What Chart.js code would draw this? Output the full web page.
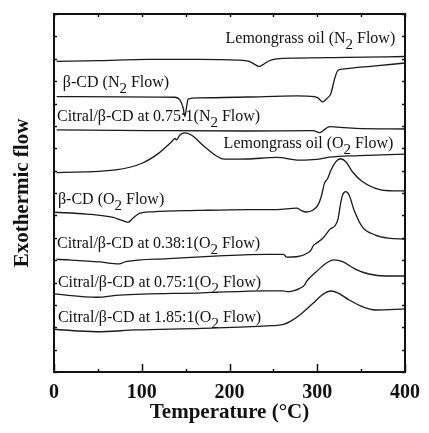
<!DOCTYPE html>
<html>
<head>
<meta charset="utf-8">
<script src="https://cdn.jsdelivr.net/npm/chart.js@4.4.0/dist/chart.umd.min.js"></script>
<style>
  html, body { margin:0; padding:0; background:#fff; }
  #wrap { width:429px; height:433px; position:relative; }
</style>
</head>
<body>
<div id="wrap"><canvas id="dsc"></canvas></div>
<script>
// DSC traces, temperature in °C, heat flow in arbitrary stacked units (0..16)
var lemonN2T = [3, 51.7, 107.9, 164, 209, 222.5, 229.2, 233.7, 238.2, 244.9, 253.9, 276.4, 332.6, 400];
var lemonN2Y = [13.88, 13.92, 13.97, 13.97, 13.94, 13.88, 13.74, 13.65, 13.74, 13.90, 13.99, 14.03, 14.06, 14.10];

var cdN2T = [3, 74.2, 137.9, 143.5, 147.2, 149.1, 150.9, 152.8, 164, 220.2, 276.4, 296.6, 300.8, 304.5, 306.4, 310.1, 315.7, 319.4, 323.3, 328.9, 366.3, 400];
var cdN2Y = [12.31, 12.30, 12.28, 12.16, 11.80, 11.42, 11.80, 12.20, 12.25, 12.29, 12.34, 12.31, 12.25, 12.11, 12.07, 12.19, 12.46, 13.05, 13.47, 13.54, 13.68, 13.81];

var mix075N2T = [3, 107.9, 220.2, 295.2, 302.6, 310.1, 314.6, 323.3, 343.8, 400];
var mix075N2Y = [10.82, 10.79, 10.77, 10.79, 10.70, 10.89, 10.97, 10.94, 10.89, 10.86];

var lemonO2T = [3, 70.4, 100.3, 119.1, 134, 137.9, 139.3, 143.5, 149.1, 156.5, 171.6, 186.5, 194, 220.2, 253.9, 280.1, 298.9, 313.8, 347.5, 400];
var lemonO2Y = [8.91, 9.03, 9.33, 9.77, 10.29, 10.44, 10.37, 10.59, 10.69, 10.59, 10.07, 9.62, 9.51, 9.52, 9.59, 9.47, 9.50, 9.60, 9.67, 9.74];

var cdO2T = [0, 37.4, 67.4, 76.4, 84.3, 89.9, 97.4, 112.4, 164, 220.2, 253.9, 276.4, 282, 287.6, 295.2, 300.8, 304.5, 308.2, 312, 315.7, 321.3, 326.2, 332.6, 340.1, 351.3, 366.3, 381.2, 400];
var cdO2Y = [7.14, 7.06, 6.91, 6.79, 6.69, 6.87, 7.09, 7.16, 7.22, 7.26, 7.26, 7.32, 7.21, 7.15, 7.24, 7.46, 7.83, 8.43, 8.66, 9.03, 9.40, 9.53, 9.40, 8.95, 8.51, 8.21, 8.10, 8.09];

var mix038O2T = [3, 51.7, 74.2, 81.7, 130.3, 182.8, 242.7, 261.5, 265.2, 276.4, 289.6, 293.3, 295.2, 298.9, 306.4, 313.8, 323.3, 327, 328.9, 332.6, 336.3, 341.9, 351.3, 366.3, 381.2, 400];
var mix038O2Y = [5.04, 4.92, 4.83, 4.93, 5.07, 5.18, 5.26, 5.26, 5.13, 5.15, 5.33, 5.47, 5.63, 5.75, 5.98, 6.35, 6.79, 7.61, 7.91, 8.06, 7.91, 7.24, 6.49, 6.12, 5.98, 5.94];

var mix075O2T = [0, 48.7, 74.9, 168.5, 242.7, 261.5, 265.2, 272.7, 280.1, 285.7, 287.6, 298.9, 310.1, 319.4, 328.9, 343.8, 358.8, 377.5, 400];
var mix075O2Y = [3.49, 3.34, 3.44, 3.54, 3.63, 3.63, 3.59, 3.63, 3.74, 3.89, 4.04, 4.48, 4.86, 5.01, 4.93, 4.59, 4.38, 4.29, 4.29];

var mix185O2T = [0, 48.7, 93.6, 168.5, 242.7, 261.5, 268.9, 280.1, 295.2, 306.4, 315.7, 323.3, 336.3, 351.3, 366.3, 400];
var mix185O2Y = [1.91, 1.80, 1.88, 1.95, 2.06, 2.13, 2.25, 2.55, 3.07, 3.47, 3.62, 3.54, 3.22, 2.92, 2.77, 2.82];

var curveNames = [
  'Lemongrass oil (N2 Flow)',
  'β-CD (N2 Flow)',
  'Citral/β-CD at 0.75:1(N2 Flow)',
  'Lemongrass oil (O2 Flow)',
  'β-CD (O2 Flow)',
  'Citral/β-CD at 0.38:1(O2 Flow)',
  'Citral/β-CD at 0.75:1(O2 Flow)',
  'Citral/β-CD at 1.85:1(O2 Flow)'
];
var xTickValues = [0, 100, 200, 300, 400];

// where each name sits (temperature, baseline in flow units)
var namePos = [[195.5, 14.70], [10.1, 12.74], [3.4, 11.22], [193.3, 10.01], [4.5, 7.51], [3.4, 5.54], [4.5, 3.80], [4.5, 2.23]];

var series = [
  [lemonN2T, lemonN2Y], [cdN2T, cdN2Y], [mix075N2T, mix075N2Y], [lemonO2T, lemonO2Y],
  [cdO2T, cdO2Y], [mix038O2T, mix038O2Y], [mix075O2T, mix075O2Y], [mix185O2T, mix185O2Y]
];

function pts(t, y){ return t.map(function(v, i){ return { x: v, y: y[i] }; }); }

var SERIF = "'Liberation Serif', 'Times New Roman', serif";

var frameAndNames = {
  id: 'frameAndNames',
  afterDatasetsDraw: function(chart){
    var ctx = chart.ctx, a = chart.chartArea, xs = chart.scales.x, ys = chart.scales.y;
    ctx.save();
    ctx.strokeStyle = '#111';
    ctx.lineWidth = 1.5;
    ctx.beginPath();
    for (var t = 0; t <= 400; t += 50) {
      var px = Math.round(xs.getPixelForValue(t)) + 0.5;
      var len = (t % 100 === 0) ? 8 : 3;
      ctx.moveTo(px, a.bottom); ctx.lineTo(px, a.bottom - len);
      ctx.moveTo(px, a.top); ctx.lineTo(px, a.top + 3);
    }
    for (var v = 0; v <= 16; v++) {
      var py = Math.round(ys.getPixelForValue(v)) + 0.5;
      ctx.moveTo(a.left, py); ctx.lineTo(a.left + 3, py);
      ctx.moveTo(a.right, py); ctx.lineTo(a.right - 3, py);
    }
    ctx.stroke();
    ctx.lineWidth = 2;
    ctx.strokeRect(a.left, a.top, a.right - a.left, a.bottom - a.top);

    ctx.fillStyle = '#111';
    ctx.textBaseline = 'alphabetic';
    ctx.textAlign = 'left';
    curveNames.forEach(function(name, i){
      var x = xs.getPixelForValue(namePos[i][0]);
      var y = ys.getPixelForValue(namePos[i][1]);
      var parts = name.split(/(?<=[NO])2/);
      ctx.font = '16px ' + SERIF;
      ctx.fillText(parts[0], x, y);
      x += ctx.measureText(parts[0]).width;
      ctx.font = '15px ' + SERIF;
      ctx.fillText('2', x, y + 6);
      x += ctx.measureText('2').width;
      ctx.font = '16px ' + SERIF;
      ctx.fillText(parts[1], x, y);
    });
    ctx.restore();
  }
};

new Chart(document.getElementById('dsc'), {
  type: 'line',
  data: {
    datasets: series.map(function(s, i){
      return {
        label: curveNames[i],
        data: pts(s[0], s[1]),
        borderColor: '#1a1a1a',
        borderWidth: 1.3,
        pointRadius: 0,
        fill: false,
        cubicInterpolationMode: 'monotone'
      };
    })
  },
  options: {
    responsive: true,
    maintainAspectRatio: false,
    animation: false,
    layout: { padding: { top: 14, right: 19, left: 0, bottom: 0 } },
    plugins: { legend: { display: false }, tooltip: { enabled: false } },
    scales: {
      x: {
        type: 'linear', min: 0, max: 400,
        afterFit: function(s){ s.height = 61; },
        afterBuildTicks: function(s){ s.ticks = xTickValues.map(function(v){ return { value: v }; }); },
        grid: { display: false, drawTicks: false },
        border: { display: false },
        ticks: { color: '#111', padding: 9, maxRotation: 0, font: { family: SERIF, size: 20, weight: 'bold' } },
        title: { display: true, text: 'Temperature (°C)', color: '#111', padding: { top: 0, bottom: 8 },
                 font: { family: SERIF, size: 21, weight: 'bold' } }
      },
      y: {
        min: 0, max: 16,
        afterFit: function(s){ s.width = 54; },
        grid: { display: false, drawTicks: false },
        border: { display: false },
        ticks: { display: false },
        title: { display: true, text: 'Exothermic flow', color: '#111', padding: { top: 10, bottom: 0 },
                 font: { family: SERIF, size: 21, weight: 'bold' } }
      }
    }
  },
  plugins: [frameAndNames]
});
</script>
</body>
</html>
